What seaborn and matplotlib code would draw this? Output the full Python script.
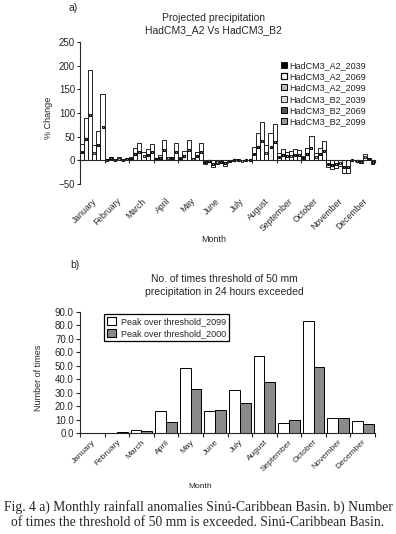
import numpy as np
import pandas as pd
import matplotlib
matplotlib.use("Agg")
import matplotlib.pyplot as plt
import seaborn as sns
from matplotlib.lines import Line2D
from matplotlib.patches import Patch

# ---------------- data ----------------
months = ["January", "February", "March", "April", "May", "June", "July",
          "August", "September", "October", "November", "December"]

series_top = ["HadCM3_A2_2039", "HadCM3_A2_2069", "HadCM3_A2_2099",
              "HadCM3_B2_2039", "HadCM3_B2_2069", "HadCM3_B2_2099"]
a2_2039 = [35, 2, 6, 5, 6, -8, -1, 28, 16, 9, -14, 0]
a2_2069 = [89, 8, 27, 11, 20, -3, 0, 58, 23, 25, -19, -1]
a2_2099 = [190, 1, 37, 44, 42, -14, 2, 80, 17, 51, -16, -5]
b2_2039 = [32, 6, 18, 8, 5, -7, -1, 32, 20, 15, -11, 13]
b2_2069 = [63, 1, 23, 8, 18, -6, 0, 58, 23, 26, -27, 5]
b2_2099 = [140, 4, 35, 36, 36, -12, 0, 76, 21, 40, -27, -8]

series_bot = ["Peak over threshold_2099", "Peak over threshold_2000"]
peak_2099 = [0.0, 0.0, 2.0, 16.2, 48.5, 16.2, 31.8, 57.5, 7.2, 83.6, 10.9, 8.7]
peak_2000 = [0.0, 0.5, 1.2, 8.2, 32.6, 16.9, 22.1, 38.0, 9.5, 49.3, 10.9, 6.7]

top_values = [a2_2039, a2_2069, a2_2099, b2_2039, b2_2069, b2_2099]
df_top = pd.DataFrame({
    "month": np.tile(months, len(series_top)),
    "series": np.repeat(series_top, len(months)),
    "value": np.concatenate(top_values),
})
df_bot = pd.DataFrame({
    "month": np.tile(months, 2),
    "series": np.repeat(series_bot, len(months)),
    "value": np.concatenate([peak_2099, peak_2000]),
})

# ---------------- style ----------------
sns.set_style("ticks")
plt.rcParams["font.family"] = ["Liberation Sans", "DejaVu Sans"]
plt.rcParams["axes.linewidth"] = 0.8

fig = plt.figure(figsize=(3.96, 5.34), dpi=100)
W, H = 396.0, 534.0

def fx(px):
    return px / W

def fy(py):
    return 1 - py / H

# ---------------- top chart ----------------
ax1 = fig.add_axes([fx(80), fy(184), fx(375) - fx(80), fy(42) - fy(184)])
sns.barplot(data=df_top, x="month", y="value", hue="series", hue_order=series_top,
            order=months, palette=["white"] * 6, saturation=1, edgecolor="black",
            linewidth=0.6, width=1.0, errorbar=None, legend=False, ax=ax1)

mk_styles = [
    dict(marker="s", mfc="black", mec="black", mew=0.6),
    dict(marker="s", mfc="white", mec="black", mew=0.9),
    dict(marker="s", mfc="#bbbbbb", mec="black", mew=0.7),
    dict(marker="s", mfc="#dddddd", mec="#222222", mew=0.7),
    dict(marker="s", mfc="#555555", mec="black", mew=0.7),
    dict(marker="s", mfc="#999999", mec="black", mew=0.7),
]
for cont, st in zip(ax1.containers, mk_styles):
    for bar in cont:
        h = bar.get_height()
        xc = bar.get_x() + bar.get_width() / 2
        ax1.plot([xc], [h / 2], ls="none", ms=1.9, **st)

ax1.set_ylim(-50, 250)
ax1.set_xlim(-0.5, 11.5)
ax1.set_yticks(np.arange(-50, 251, 50))
ax1.tick_params(axis="y", labelsize=7, length=2.5, width=0.8, pad=1)
ax1.spines["top"].set_visible(False)
ax1.spines["right"].set_visible(False)
ax1.spines["bottom"].set_position(("data", 0))
ax1.spines["bottom"].set_linewidth(0.8)
ax1.set_xticks(np.arange(-0.5, 12, 1))
ax1.set_xticklabels([])
ax1.set_xticks(np.arange(12), minor=True)
ax1.set_xticklabels(months, minor=True, rotation=45, ha="right",
                    rotation_mode="anchor", fontsize=6.2)
ax1.tick_params(axis="x", which="major", length=2.5, width=0.8)
ax1.tick_params(axis="x", which="minor", length=0, pad=26)
ax1.set_xlabel("")
ax1.set_ylabel("% Change", fontsize=6.5)
ax1.yaxis.set_label_coords(-0.092, 0.465)

leg_handles = [Line2D([], [], ls="none", ms=4, **st) for st in mk_styles]
fig.legend(leg_handles, series_top, loc="upper left", bbox_to_anchor=(fx(281), fy(61)),
           frameon=False, fontsize=6.5, handlelength=0.6, handletextpad=0.3,
           labelspacing=0.25, borderpad=0, borderaxespad=0, labelcolor="#222222")

fig.text(fx(73), fy(8), "a)", fontsize=7.5, ha="center", va="center")
fig.text(fx(213), fy(18), "Projected precipitation", fontsize=7.5, ha="center", va="center")
fig.text(fx(213), fy(30), "HadCM3_A2 Vs HadCM3_B2", fontsize=7.5, ha="center", va="center")
fig.text(fx(214), fy(240), "Month", fontsize=6.5, ha="center", va="center")

# ---------------- bottom chart ----------------
ax2 = fig.add_axes([fx(80), fy(433), fx(375) - fx(80), fy(312) - fy(433)])
sns.barplot(data=df_bot, x="month", y="value", hue="series", hue_order=series_bot,
            order=months, palette=["white", "#8a8a8a"], saturation=1, edgecolor="black",
            linewidth=0.7, width=0.88, errorbar=None, legend=False, ax=ax2)
ax2.set_ylim(0, 90)
ax2.set_xlim(-0.5, 11.5)
ax2.set_yticks(np.arange(0, 91, 10))
ax2.set_yticklabels([f"{v:.1f}" for v in np.arange(0, 91, 10)])
ax2.tick_params(axis="y", labelsize=7, length=3, width=0.8, pad=1.5)
ax2.spines["top"].set_visible(False)
ax2.spines["right"].set_visible(False)
ax2.set_xticks(np.arange(-0.5, 12, 1))
ax2.set_xticklabels([])
ax2.set_xticks(np.arange(12), minor=True)
ax2.set_xticklabels(months, minor=True, rotation=45, ha="right",
                    rotation_mode="anchor", fontsize=6)
ax2.tick_params(axis="x", which="major", length=3, width=0.8)
ax2.tick_params(axis="x", which="minor", length=0, pad=4)
ax2.set_xlabel("")
ax2.set_ylabel("Number of times", fontsize=6.5)
ax2.yaxis.set_label_coords(-0.125, 0.455)

bot_handles = [Patch(facecolor="white", edgecolor="black", lw=0.8),
               Patch(facecolor="#8a8a8a", edgecolor="black", lw=0.8)]
leg2 = fig.legend(bot_handles, series_bot, loc="upper left",
                  bbox_to_anchor=(fx(104), fy(314)), frameon=True, fancybox=False,
                  edgecolor="black", framealpha=1, fontsize=6.5, handlelength=1.0,
                  handleheight=1.0, handletextpad=0.5, labelspacing=0.3,
                  borderpad=0.35, borderaxespad=0)
leg2.get_frame().set_linewidth(0.9)

fig.text(fx(75), fy(265), "b)", fontsize=7.5, ha="center", va="center")
fig.text(fx(224), fy(279), "No. of times threshold of 50 mm", fontsize=7.5,
         ha="center", va="center")
fig.text(fx(224), fy(292), "precipitation in 24 hours exceeded", fontsize=7.5,
         ha="center", va="center")
fig.text(fx(200), fy(487), "Month", fontsize=6, ha="center", va="center")

cap_font = ["Liberation Serif", "DejaVu Serif"]
fig.text(fx(198), fy(507), "Fig. 4 a) Monthly rainfall anomalies Sinú-Caribbean Basin. b) Number",
         fontsize=9.8, family=cap_font, ha="center", va="center")
fig.text(fx(198), fy(522), "of times the threshold of 50 mm is exceeded. Sinú-Caribbean Basin.",
         fontsize=9.8, family=cap_font, ha="center", va="center")

fig.savefig("out.png", dpi=100)
